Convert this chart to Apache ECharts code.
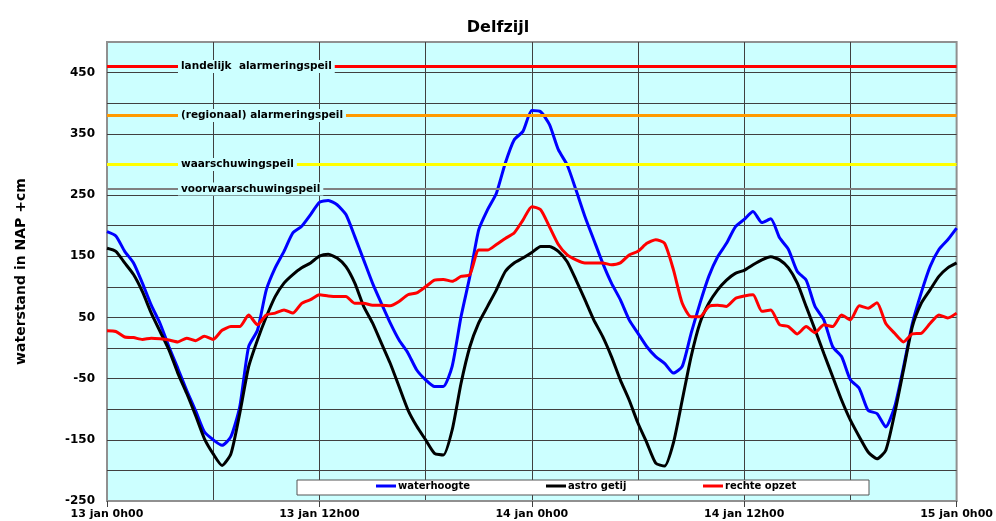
<!DOCTYPE html>
<html>
<head>
<meta charset="utf-8">
<script src="https://cdn.jsdelivr.net/npm/echarts@6/dist/echarts.min.js"></script>
<style>html,body{margin:0;padding:0;background:#fff}#c{width:996px;height:521px}</style>
</head>
<body>
<div id="c"></div>
<script>
// sampling grid: hours since 13 jan 0h00, every half hour
const hours = [];
for (let i = 0; i <= 96; i++) hours.push(i / 2);

const xTickLabels = ['13 jan 0h00', '13 jan 12h00', '14 jan 0h00', '14 jan 12h00', '15 jan 0h00'];

const waterhoogte = [
  190, 183, 158, 139, 106, 70, 40, 2, -33, -69, -102, -137, -150, -159, -145, -96, 2, 29, 95, 131, 158, 188, 199, 218, 238,
  241, 234, 218, 182, 144, 106, 73, 41, 13, -8, -36, -52, -63, -63, -30, 51, 117, 193, 226, 253, 302, 340, 354, 388,
  386, 365, 324, 299, 258, 215, 177, 139, 106, 79, 46, 24, 2, -14, -25, -41, -30, 24, 73, 117, 149, 171, 198, 210,
  223, 205, 211, 180, 161, 125, 111, 68, 46, 2, -14, -52, -66, -102, -107, -129, -96, -31, 40, 90, 133, 161, 177, 196
];

const astroGetij = [
  163, 158, 139, 120, 92, 57, 27, -3, -41, -74, -110, -148, -173, -192, -173, -107, -31, 13, 51, 84, 106, 120, 131, 139, 150,
  153, 147, 133, 106, 68, 41, 8, -25, -63, -101, -128, -150, -172, -175, -134, -58, 2, 41, 68, 95, 125, 139, 147, 156,
  166, 166, 158, 141, 111, 79, 46, 19, -14, -52, -85, -123, -155, -188, -193, -155, -85, -14, 41, 73, 95, 111, 122, 127,
  136, 144, 149, 144, 131, 106, 68, 30, -9, -47, -85, -118, -145, -170, -181, -167, -107, -36, 35, 73, 95, 117, 131, 139
];

const rechteOpzet = [
  28, 27, 18, 17, 14, 16, 15, 13, 10, 16, 12, 19, 14, 29, 35, 35, 54, 38, 54, 57, 62, 57, 73, 79, 87,
  85, 84, 84, 73, 73, 70, 70, 69, 76, 87, 90, 100, 111, 112, 109, 117, 120, 160, 160, 169, 179, 188, 209, 231,
  226, 198, 169, 152, 144, 139, 139, 139, 136, 139, 152, 158, 171, 177, 171, 128, 73, 51, 51, 68, 70, 68, 81, 85,
  87, 60, 62, 38, 35, 23, 35, 25, 38, 35, 54, 46, 69, 65, 74, 40, 24, 10, 23, 24, 40, 54, 49, 57
];

const levelValues = [460, 380, 300, 260];
const levelNames = ['landelijk  alarmeringspeil', '(regionaal) alarmeringspeil', 'waarschuwingspeil', 'voorwaarschuwingspeil'];

const seriesNames = ['waterhoogte', 'astro getij', 'rechte opzet'];

// styles
const levelColors = ['#FF0000', '#FF9900', '#FFFF00', '#808080'];
const levelWidths = [3, 3, 3, 2];
const seriesColors = ['#0000FF', '#000000', '#FF0000'];
const FONT = 'DejaVu Sans';

const pair = arr => hours.map((h, i) => [h, arr[i]]);

const chart = echarts.init(document.getElementById('c'), null, {renderer: 'canvas'});

const legendLeft = [376, 546, 703];

chart.setOption({
  animation: false,
  backgroundColor: '#ffffff',
  title: {
    text: 'Delfzijl', left: 'center', top: 15,
    textStyle: {fontFamily: FONT, fontSize: 16, fontWeight: 'bold', color: '#000'}
  },
  grid: {
    left: 107, right: 37, top: 42, bottom: 20,
    show: true, backgroundColor: '#CCFFFF', borderColor: '#909090', borderWidth: 2
  },
  xAxis: [
    {
      type: 'value', min: 0, max: 48, interval: 6, position: 'bottom',
      axisLine: {show: false}, axisTick: {show: false}, axisLabel: {show: false},
      splitLine: {show: true, showMinLine: false, showMaxLine: false, lineStyle: {color: '#404040', width: 1}}
    },
    {
      type: 'value', min: 0, max: 48, interval: 12, position: 'bottom',
      axisLine: {show: true, lineStyle: {color: '#909090', width: 2}},
      axisTick: {show: true, length: 6, lineStyle: {color: '#404040'}},
      splitLine: {show: false},
      axisLabel: {
        margin: 8, fontFamily: FONT, fontSize: 11, fontWeight: 'bold', color: '#000',
        formatter: v => xTickLabels[Math.round(v / 12)] || ''
      }
    }
  ],
  yAxis: {
    type: 'value', min: -250, max: 500, interval: 50,
    name: 'waterstand in NAP +cm', nameLocation: 'middle', nameGap: 79,
    nameTextStyle: {fontFamily: FONT, fontSize: 14, fontWeight: 'bold', color: '#000'},
    axisLine: {show: false}, axisTick: {show: false},
    axisLabel: {
      margin: 12, fontFamily: FONT, fontSize: 12, fontWeight: 'bold', color: '#000',
      formatter: v => (((v + 250) % 100) === 0 && v < 500) ? String(v) : ''
    },
    splitLine: {show: true, showMinLine: false, showMaxLine: false, lineStyle: {color: '#404040', width: 1}}
  },
  graphic: [{
    type: 'rect', z: 1,
    shape: {x: 297, y: 480, width: 572, height: 15},
    style: {fill: '#ffffff', stroke: '#555555', lineWidth: 1}
  }],
  legend: seriesNames.map((n, i) => ({
    data: [n], left: legendLeft[i], top: 481, padding: 0,
    icon: 'rect', itemWidth: 20, itemHeight: 3,
    textStyle: {fontFamily: FONT, fontSize: 10, fontWeight: 'bold', color: '#000', padding: [0, 0, 0, -3]},
    selectedMode: false, z: 5
  })),
  series: [
    {
      name: 'levels', type: 'line', data: [], z: 2, silent: true,
      markLine: {
        silent: true, symbol: 'none', animation: false,
        data: levelValues.map((v, i) => ({
          yAxis: v, name: levelNames[i],
          lineStyle: {color: levelColors[i], width: levelWidths[i], type: 'solid'}
        })),
        label: {
          show: true, position: 'insideStart', distance: [71, 0],
          formatter: p => p.name,
          fontFamily: FONT, fontSize: 10.5, fontWeight: 'bold', color: '#000',
          backgroundColor: '#CCFFFF', padding: [1, 3, 1, 3]
        }
      }
    },
    ...[waterhoogte, astroGetij, rechteOpzet].map((arr, i) => ({
      name: seriesNames[i], type: 'line', data: pair(arr), z: 3,
      showSymbol: false, smooth: 0.2,
      lineStyle: {color: seriesColors[i], width: 3},
      itemStyle: {color: seriesColors[i]}
    }))
  ]
});
</script>
</body>
</html>
